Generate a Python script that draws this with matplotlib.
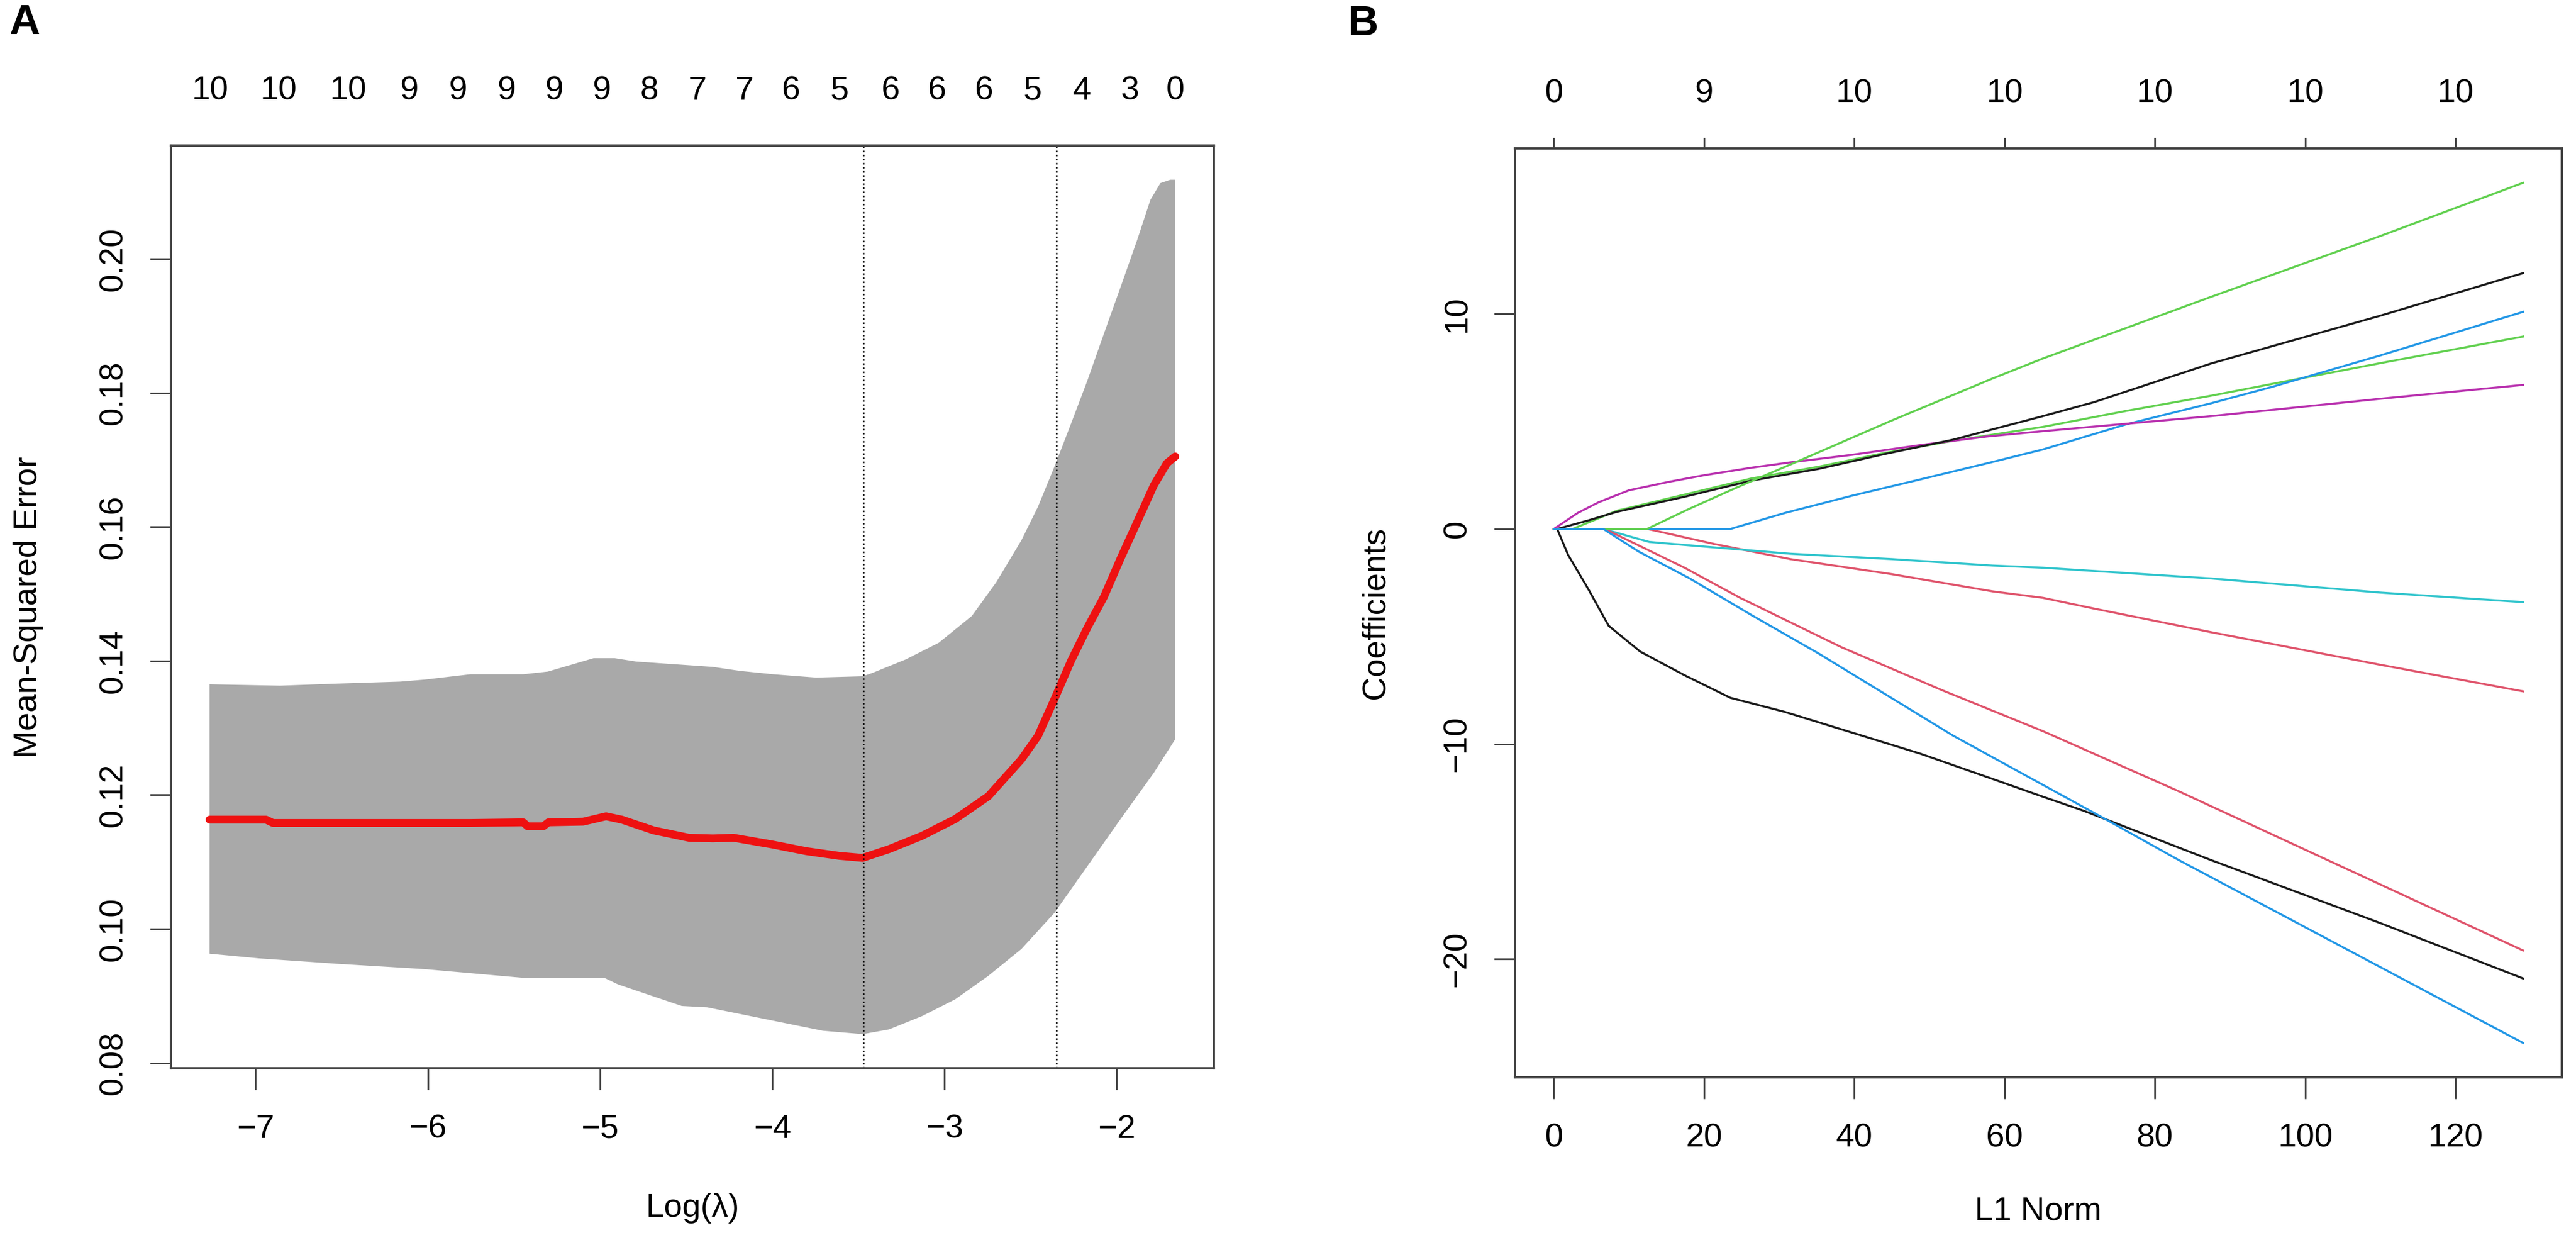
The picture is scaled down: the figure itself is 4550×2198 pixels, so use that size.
import matplotlib
matplotlib.use('Agg')
import matplotlib.pyplot as plt

plt.rcParams['font.family'] = ['Liberation Sans', 'DejaVu Sans']

# ---------------- Panel A: cross-validated MSE vs log(lambda) ----------------
# upper edge of the error band
up_loglam = [-7.267, -6.858, -6.530, -6.162, -6.019, -5.753, -5.446, -5.303, -5.037,
             -4.915, -4.791, -4.345, -4.186, -3.994, -3.744, -3.475, -3.418, -3.226,
             -3.033, -2.841, -2.700, -2.553, -2.457, -2.361, -2.265, -2.169, -2.073,
             -1.977, -1.881, -1.804, -1.746, -1.689, -1.660]
up_mse = [0.1365, 0.1363, 0.1366, 0.1369, 0.1372, 0.1380, 0.1380, 0.1384, 0.1404,
          0.1404, 0.1399, 0.1391, 0.1385, 0.1380, 0.1375, 0.1377, 0.1382, 0.1402,
          0.1427, 0.1467, 0.1517, 0.1580, 0.1630, 0.1690, 0.1754, 0.1819, 0.1889,
          0.1958, 0.2028, 0.2088, 0.2113, 0.2118, 0.2118]
# lower edge of the error band
lo_loglam = [-7.267, -6.980, -6.530, -6.019, -5.446, -4.975, -4.894, -4.525, -4.378,
             -3.994, -3.706, -3.475, -3.322, -3.129, -2.937, -2.745, -2.553, -2.361,
             -2.169, -1.977, -1.784, -1.660]
lo_mse = [0.0963, 0.0956, 0.0948, 0.0940, 0.0927, 0.0927, 0.0917, 0.0885, 0.0883,
          0.0863, 0.0848, 0.0843, 0.0850, 0.0870, 0.0895, 0.0930, 0.0970, 0.1024,
          0.1094, 0.1164, 0.1233, 0.1283]
# mean cross-validated error (red)
cv_loglam = [-7.267, -6.939, -6.899, -6.530, -5.753, -5.446, -5.420, -5.330, -5.300,
             -5.098, -4.965, -4.873, -4.689, -4.484, -4.345, -4.225, -4.000, -3.802,
             -3.610, -3.475, -3.322, -3.129, -2.937, -2.745, -2.553, -2.457, -2.361,
             -2.265, -2.169, -2.073, -1.977, -1.881, -1.784, -1.708, -1.660]
cv_mse = [0.1163, 0.1163, 0.1158, 0.1158, 0.1158, 0.1159, 0.1153, 0.1153, 0.1159,
          0.1160, 0.1168, 0.1163, 0.1147, 0.1136, 0.1135, 0.1136, 0.1126, 0.1116,
          0.1109, 0.1106, 0.1119, 0.1139, 0.1164, 0.1198, 0.1253, 0.1288, 0.1343,
          0.1400, 0.1450, 0.1496, 0.1553, 0.1607, 0.1662, 0.1695, 0.1705]
# number of non-zero coefficients along the top
nz_loglam = [-7.265, -6.866, -6.463, -6.110, -5.825, -5.543, -5.268, -4.990, -4.715,
             -4.434, -4.159, -3.890, -3.609, -3.311, -3.043, -2.768, -2.489, -2.201,
             -1.923, -1.658]
nz_labels = ['10', '10', '10', '9', '9', '9', '9', '9', '8', '7', '7', '6', '5', '6',
             '6', '6', '5', '4', '3', '0']
lambda_min_log = -3.47
lambda_1se_log = -2.35
a_xticks = [-7, -6, -5, -4, -3, -2]
a_yticks = [0.08, 0.10, 0.12, 0.14, 0.16, 0.18, 0.20]

# ---------------- Panel B: coefficient paths vs L1 norm ----------------
v1_l1 = [0, 0.45, 1.9, 4.6, 7.3, 11.5, 17.4, 23.5, 30.7, 40.0, 48.8, 57.8, 65.1, 70.5, 87.5, 109.8, 129]
v1_b = [0, 0, -1.2, -2.8, -4.5, -5.7, -6.8, -7.85, -8.5, -9.5, -10.45, -11.55, -12.45, -13.1, -15.4, -18.3, -20.9]
v2_l1 = [0, 12.5, 21.4, 31.5, 45.0, 58.4, 65.1, 71.9, 87.5, 109.8, 129]
v2_b = [0, 0, -0.7, -1.4, -2.1, -2.9, -3.2, -3.7, -4.8, -6.3, -7.55]
v3_l1 = [0, 2.5, 8.4, 17.4, 26.3, 35.3, 44.2, 53.1, 65.1, 76.3, 87.5, 95.5, 109.8, 129]
v3_b = [0, 0, 0.85, 1.6, 2.35, 2.9, 3.55, 4.1, 4.75, 5.5, 6.2, 6.74, 7.7, 8.95]
v4_l1 = [0, 23.5, 30.8, 39.7, 48.7, 57.6, 65.1, 76.3, 87.5, 95.5, 109.8, 129]
v4_b = [0, 0, 0.75, 1.55, 2.3, 3.05, 3.7, 4.88, 5.85, 6.6, 8.05, 10.1]
v5_l1 = [0, 6.6, 12.7, 16.0, 31.5, 45.0, 58.4, 65.1, 87.5, 109.8, 129]
v5_b = [0, 0, -0.6, -0.7, -1.15, -1.4, -1.7, -1.8, -2.3, -2.95, -3.4]
v6_l1 = [0, 3.2, 6.0, 10.0, 15.4, 20.0, 26.3, 31.5, 39.7, 48.7, 57.6, 65.1, 76.3, 87.5, 109.8, 129]
v6_b = [0, 0.75, 1.25, 1.8, 2.2, 2.5, 2.85, 3.1, 3.45, 3.9, 4.3, 4.55, 4.9, 5.25, 6.05, 6.7]
v7_l1 = [0, 0.45, 4.6, 8.4, 17.4, 26.3, 35.3, 44.2, 53.1, 65.1, 71.9, 87.5, 109.8, 129]
v7_b = [0, 0, 0.4, 0.8, 1.5, 2.25, 2.8, 3.5, 4.15, 5.25, 5.9, 7.7, 9.9, 11.9]
v8_l1 = [0, 6.8, 17.4, 24.8, 38.3, 51.7, 65.1, 83.2, 129]
v8_b = [0, 0, -1.8, -3.2, -5.5, -7.5, -9.4, -12.2, -19.6]
v9_l1 = [0, 12.4, 18.1, 24.8, 31.5, 45.0, 58.4, 65.1, 87.5, 109.8, 129]
v9_b = [0, 0, 0.95, 2.0, 3.0, 5.05, 7.0, 7.93, 10.8, 13.6, 16.1]
v10_l1 = [0, 6.6, 11.3, 18.1, 26.3, 35.3, 44.2, 53.1, 65.1, 71.9, 83.2, 129]
v10_b = [0, 0, -1.05, -2.3, -4.0, -5.8, -7.7, -9.6, -11.9, -13.2, -15.4, -23.9]
df_ticks = [0, 20, 40, 60, 80, 100, 120]
df_labels = ['0', '9', '10', '10', '10', '10', '10']
b_yticks = [-20, -10, 0, 10]

paths = [(v1_l1, v1_b), (v2_l1, v2_b), (v3_l1, v3_b), (v4_l1, v4_b), (v5_l1, v5_b),
         (v6_l1, v6_b), (v7_l1, v7_b), (v8_l1, v8_b), (v9_l1, v9_b), (v10_l1, v10_b)]
# R matplot default col = 1:6 (R 4 palette)
palette = ['#1A1A1A', '#DF536B', '#61D04F', '#2297E6', '#2FC4CC', '#B82FAE']

W, H = 4550, 2198
fig = plt.figure(figsize=(W / 100, H / 100), dpi=100)

def rect(left, top, right, bottom):
    return [left / W, 1 - bottom / H, (right - left) / W, (bottom - top) / H]

FS = 42
BOX = '#444444'

def style_axes(ax):
    for sp in ax.spines.values():
        sp.set_color(BOX)
        sp.set_linewidth(3)
    ax.tick_params(axis='both', direction='out', length=27, width=2.2, color=BOX,
                   labelsize=FS, top=False, right=False)
    ax.tick_params(axis='x', pad=31)
    ax.tick_params(axis='y', pad=27)
    for lab in ax.get_yticklabels():
        lab.set_rotation(90)
        lab.set_va('center')

def pad_lim(lo, hi):
    d = (hi - lo) * 0.04
    return lo - d, hi + d

# ---- A ----
axA = fig.add_axes(rect(302, 257, 2144, 1886))
band_x = list(up_loglam) + list(lo_loglam[::-1])
band_y = list(up_mse) + list(lo_mse[::-1])
axA.fill(band_x, band_y, color='#A9A9A9', lw=0)
axA.plot(cv_loglam, cv_mse, color='#EE1111', lw=10, solid_capstyle='round',
         solid_joinstyle='round')
axA.axvline(lambda_min_log, color='black', lw=2, ls=(0, (1, 1.6)))
axA.axvline(lambda_1se_log, color='black', lw=2, ls=(0, (1, 1.6)))
axA.set_xlim(*pad_lim(min(up_loglam), max(up_loglam)))
axA.set_ylim(*pad_lim(min(lo_mse), max(up_mse)))
axA.set_xticks(a_xticks)
axA.set_yticks(a_yticks)
axA.set_yticklabels(['%.2f' % v for v in a_yticks])
style_axes(axA)
axA.set_xlabel('Log(λ)', fontsize=FS, va='center')
axA.xaxis.set_label_coords(0.5, -(2133 - 1886) / (1886 - 257))
axA.set_ylabel('Mean-Squared Error', fontsize=FS, va='center', ha='center')
axA.yaxis.set_label_coords(-(302 - 50) / (2144 - 302), 0.5)
topA = axA.secondary_xaxis('top')
topA.set_xticks(nz_loglam, labels=nz_labels)
topA.tick_params(length=0, pad=50, labelsize=FS)
topA.spines['top'].set_color(BOX)
topA.spines['top'].set_linewidth(3)

# ---- B ----
axB = fig.add_axes(rect(2676, 262, 4525, 1902))
for i, (xs, ys) in enumerate(paths):
    axB.plot(xs, ys, color=palette[i % 6], lw=2.6)
all_b = [v for _, ys in paths for v in ys]
axB.set_xlim(*pad_lim(0, max(v1_l1)))
axB.set_ylim(*pad_lim(min(all_b), max(all_b)))
axB.set_xticks(df_ticks)
axB.set_yticks(b_yticks)
style_axes(axB)
axB.set_xlabel('L1 Norm', fontsize=FS, va='center')
axB.xaxis.set_label_coords(0.5, -(2138 - 1902) / (1902 - 262))
axB.set_ylabel('Coefficients', fontsize=FS, va='center', ha='center')
axB.yaxis.set_label_coords(-(2676 - 2430) / (4525 - 2676), 0.5)
topB = axB.secondary_xaxis('top')
topB.set_xticks(df_ticks, labels=df_labels)
topB.tick_params(length=14, width=2.2, color=BOX, pad=36, labelsize=FS)
topB.spines['top'].set_color(BOX)
topB.spines['top'].set_linewidth(3)

fig.text(43 / W, 1 - 40 / H, 'A', fontsize=54, fontweight='bold', ha='center', va='center')
fig.text(2408 / W, 1 - 42 / H, 'B', fontsize=54, fontweight='bold', ha='center', va='center')

fig.savefig('out.png', dpi=100, facecolor='white')
